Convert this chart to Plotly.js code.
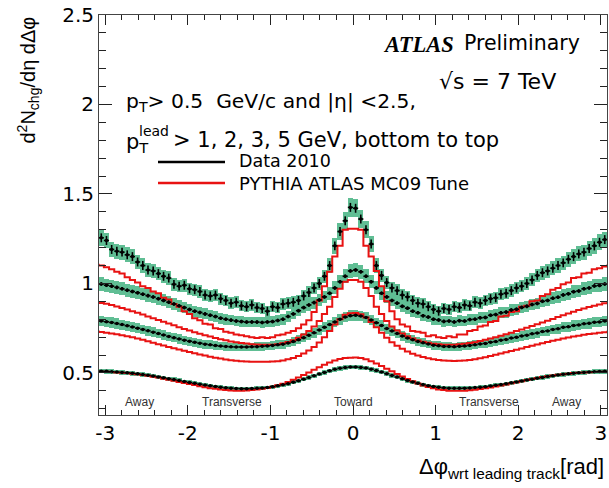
<!DOCTYPE html>
<html>
<head>
<meta charset="utf-8">
<script src="https://cdn.plot.ly/plotly-3.0.1.min.js"></script>
<style>html,body{margin:0;padding:0;background:#fff;}#chart{width:609px;height:488px;}</style>
</head>
<body>
<div id="chart"></div>
<script>
// ---------------- data ----------------
const nBins = 100; // bins over [-pi, pi]
const xTickVals = [-3, -2, -1, 0, 1, 2, 3];
const xTickText = ['-3', '-2', '-1', '0', '1', '2', '3'];
const yTickVals = [0.5, 1, 1.5, 2, 2.5];
const yTickText = ['0.5', '1', '1.5', '2', '2.5'];

// Data 2010, pT lead > 5 GeV (top)
const dataPt5 = [
 1.25, 1.255, 1.24, 1.19, 1.18, 1.175, 1.16, 1.15, 1.12, 1.10,
 1.075, 1.07, 1.055, 1.04, 1.03, 0.995, 0.985, 0.99, 0.97, 0.965,
 0.955, 0.935, 0.93, 0.935, 0.915, 0.905, 0.89, 0.895, 0.875, 0.87,
 0.88, 0.865, 0.86, 0.845, 0.87, 0.865, 0.885, 0.89, 0.895, 0.905,
 0.93, 0.95, 0.975, 1.00, 1.04, 1.10, 1.21, 1.29, 1.35, 1.425,
 1.42, 1.36, 1.30, 1.22, 1.10, 1.045, 1.005, 0.975, 0.96, 0.935,
 0.925, 0.905, 0.89, 0.885, 0.87, 0.855, 0.845, 0.86, 0.855, 0.87,
 0.865, 0.88, 0.875, 0.895, 0.89, 0.905, 0.915, 0.92, 0.94, 0.945,
 0.96, 0.975, 0.985, 1.00, 1.02, 1.045, 1.06, 1.07, 1.085, 1.10,
 1.115, 1.135, 1.15, 1.165, 1.175, 1.195, 1.21, 1.23, 1.245, 1.255];
// Data 2010, pT lead > 3 GeV
const dataPt3 = [
 1.0, 0.997, 0.99, 0.985, 0.978, 0.97, 0.962, 0.955, 0.948, 0.94,
 0.932, 0.924, 0.915, 0.905, 0.895, 0.885, 0.875, 0.865, 0.855, 0.845,
 0.838, 0.83, 0.822, 0.815, 0.806, 0.80, 0.795, 0.79, 0.787, 0.784,
 0.785, 0.784, 0.782, 0.785, 0.787, 0.793, 0.80, 0.815, 0.83, 0.848,
 0.865, 0.88, 0.893, 0.908, 0.925, 0.945, 0.975, 1.01, 1.04, 1.07,
 1.075, 1.065, 1.04, 1.01, 0.975, 0.945, 0.925, 0.905, 0.89, 0.872,
 0.862, 0.845, 0.836, 0.82, 0.812, 0.80, 0.796, 0.788, 0.79, 0.785,
 0.792, 0.79, 0.798, 0.80, 0.808, 0.81, 0.822, 0.826, 0.836, 0.84,
 0.852, 0.856, 0.866, 0.872, 0.882, 0.888, 0.9, 0.905, 0.917, 0.923,
 0.936, 0.942, 0.954, 0.958, 0.97, 0.975, 0.986, 0.989, 0.997, 1.0];
// Data 2010, pT lead > 2 GeV
const dataPt2 = [
 0.793, 0.79, 0.786, 0.782, 0.776, 0.77, 0.764, 0.757, 0.75, 0.743,
 0.736, 0.728, 0.72, 0.712, 0.704, 0.697, 0.69, 0.683, 0.677, 0.671,
 0.666, 0.661, 0.657, 0.653, 0.65, 0.648, 0.646, 0.645, 0.645, 0.645,
 0.646, 0.647, 0.649, 0.651, 0.654, 0.657, 0.661, 0.667, 0.675, 0.685,
 0.697, 0.71, 0.724, 0.74, 0.755, 0.77, 0.785, 0.8, 0.812, 0.82,
 0.822, 0.818, 0.81, 0.796, 0.78, 0.765, 0.748, 0.735, 0.72, 0.706,
 0.695, 0.686, 0.676, 0.668, 0.662, 0.655, 0.652, 0.648, 0.648, 0.646,
 0.649, 0.65, 0.654, 0.657, 0.662, 0.665, 0.672, 0.675, 0.683, 0.687,
 0.695, 0.699, 0.707, 0.711, 0.719, 0.723, 0.731, 0.735, 0.743, 0.747,
 0.755, 0.758, 0.765, 0.768, 0.775, 0.777, 0.783, 0.785, 0.79, 0.791];
// Data 2010, pT lead > 1 GeV (bottom)
const dataPt1 = [
 0.511, 0.51, 0.509, 0.507, 0.505, 0.503, 0.501, 0.498, 0.495, 0.491,
 0.487, 0.483, 0.478, 0.473, 0.468, 0.463, 0.458, 0.452, 0.447, 0.442,
 0.437, 0.432, 0.428, 0.424, 0.42, 0.417, 0.415, 0.413, 0.412, 0.412,
 0.413, 0.414, 0.416, 0.419, 0.423, 0.428, 0.434, 0.44, 0.448, 0.456,
 0.465, 0.474, 0.484, 0.494, 0.503, 0.512, 0.52, 0.526, 0.53, 0.533,
 0.533, 0.531, 0.527, 0.521, 0.513, 0.505, 0.496, 0.486, 0.477, 0.467,
 0.458, 0.45, 0.442, 0.435, 0.429, 0.424, 0.42, 0.417, 0.415, 0.414,
 0.414, 0.415, 0.416, 0.418, 0.42, 0.423, 0.427, 0.431, 0.435, 0.44,
 0.445, 0.45, 0.455, 0.46, 0.465, 0.47, 0.475, 0.48, 0.484, 0.488,
 0.492, 0.495, 0.498, 0.501, 0.503, 0.505, 0.507, 0.508, 0.509, 0.51];

// PYTHIA ATLAS MC09, pT lead > 5 GeV
const mcPt5 = [
 1.105, 1.10, 1.09, 1.08, 1.065, 1.055, 1.035, 1.02, 1.005, 0.985,
 0.975, 0.955, 0.945, 0.92, 0.91, 0.885, 0.87, 0.845, 0.83, 0.805,
 0.795, 0.775, 0.77, 0.75, 0.745, 0.73, 0.725, 0.715, 0.71, 0.705,
 0.70, 0.695, 0.70, 0.695, 0.70, 0.71, 0.715, 0.725, 0.735, 0.75,
 0.77, 0.795, 0.84, 0.905, 0.985, 1.065, 1.15, 1.21, 1.30, 1.305,
 1.305, 1.30, 1.21, 1.15, 1.07, 0.985, 0.90, 0.845, 0.80, 0.77,
 0.76, 0.735, 0.73, 0.725, 0.705, 0.71, 0.70, 0.695, 0.705, 0.70,
 0.715, 0.715, 0.735, 0.74, 0.76, 0.765, 0.785, 0.79, 0.815, 0.82,
 0.84, 0.845, 0.87, 0.875, 0.9, 0.905, 0.93, 0.94, 0.965, 0.975,
 0.995, 1.005, 1.03, 1.035, 1.055, 1.06, 1.08, 1.085, 1.095, 1.10];
// PYTHIA ATLAS MC09, pT lead > 3 GeV
const mcPt3 = [
 0.895, 0.891, 0.886, 0.879, 0.871, 0.863, 0.854, 0.845, 0.836, 0.826,
 0.816, 0.806, 0.796, 0.786, 0.776, 0.766, 0.756, 0.746, 0.737, 0.728,
 0.719, 0.711, 0.703, 0.695, 0.688, 0.682, 0.676, 0.671, 0.667, 0.664,
 0.661, 0.659, 0.658, 0.657, 0.658, 0.661, 0.666, 0.673, 0.683, 0.697,
 0.715, 0.735, 0.76, 0.79, 0.83, 0.87, 0.925, 0.97, 1.01, 1.02,
 1.02, 1.01, 0.975, 0.93, 0.87, 0.83, 0.79, 0.76, 0.737, 0.72,
 0.705, 0.692, 0.682, 0.674, 0.668, 0.663, 0.66, 0.658, 0.657, 0.658,
 0.66, 0.663, 0.667, 0.672, 0.678, 0.685, 0.692, 0.70, 0.708, 0.716,
 0.725, 0.734, 0.743, 0.752, 0.762, 0.772, 0.782, 0.792, 0.802, 0.812,
 0.822, 0.832, 0.842, 0.851, 0.86, 0.868, 0.876, 0.883, 0.889, 0.893];
// PYTHIA ATLAS MC09, pT lead > 2 GeV
const mcPt2 = [
 0.732, 0.729, 0.725, 0.721, 0.716, 0.711, 0.705, 0.699, 0.692, 0.685,
 0.677, 0.669, 0.661, 0.653, 0.645, 0.638, 0.631, 0.624, 0.617, 0.61,
 0.603, 0.597, 0.591, 0.585, 0.58, 0.575, 0.571, 0.568, 0.565, 0.564,
 0.563, 0.562, 0.562, 0.563, 0.564, 0.566, 0.57, 0.576, 0.584, 0.595,
 0.608, 0.625, 0.645, 0.67, 0.7, 0.735, 0.77, 0.8, 0.825, 0.834,
 0.835, 0.828, 0.81, 0.785, 0.755, 0.725, 0.697, 0.672, 0.652, 0.635,
 0.62, 0.607, 0.597, 0.589, 0.582, 0.577, 0.573, 0.57, 0.568, 0.567,
 0.568, 0.57, 0.573, 0.577, 0.582, 0.588, 0.595, 0.602, 0.609, 0.616,
 0.623, 0.63, 0.637, 0.645, 0.652, 0.659, 0.666, 0.673, 0.68, 0.686,
 0.692, 0.698, 0.703, 0.708, 0.713, 0.717, 0.721, 0.725, 0.728, 0.73];
// PYTHIA ATLAS MC09, pT lead > 1 GeV
const mcPt1 = [
 0.508, 0.507, 0.506, 0.505, 0.503, 0.501, 0.499, 0.496, 0.492, 0.488,
 0.484, 0.479, 0.474, 0.468, 0.462, 0.456, 0.45, 0.444, 0.438, 0.432,
 0.426, 0.42, 0.415, 0.411, 0.407, 0.404, 0.402, 0.401, 0.401, 0.402,
 0.404, 0.407, 0.411, 0.416, 0.423, 0.431, 0.44, 0.45, 0.462, 0.475,
 0.489, 0.503, 0.518, 0.532, 0.546, 0.559, 0.57, 0.578, 0.583, 0.585,
 0.586, 0.583, 0.576, 0.566, 0.553, 0.539, 0.524, 0.509, 0.494, 0.48,
 0.466, 0.453, 0.441, 0.43, 0.421, 0.414, 0.408, 0.404, 0.401, 0.40,
 0.40, 0.401, 0.403, 0.406, 0.41, 0.414, 0.419, 0.424, 0.43, 0.436,
 0.442, 0.448, 0.454, 0.46, 0.466, 0.472, 0.477, 0.482, 0.486, 0.49,
 0.493, 0.496, 0.499, 0.501, 0.503, 0.504, 0.505, 0.506, 0.507, 0.507];

// statistical error (absolute) and systematic band (relative) per data series
const dataSeries = [dataPt1, dataPt2, dataPt3, dataPt5];
const statErr = [0.003, 0.006, 0.01, 0.025];
const systFrac = [0.025, 0.037, 0.037, 0.036];
const mcSeries = [mcPt1, mcPt2, mcPt3, mcPt5];

const regionText = ['Away', 'Transverse', 'Toward', 'Transverse', 'Away'];

// ---------------- chart ----------------
const binW = 2 * Math.PI / nBins;
const phi = Array.from({length: nBins}, (_, i) => -Math.PI + (i + 0.5) * binW);

const GREEN = 'rgb(96,190,148)';
const RED = 'rgb(232,18,18)';
const FONT = 'Liberation Sans, Arial, Helvetica, sans-serif';
const WIDE = 'DejaVu Sans, Liberation Sans, sans-serif';

const traces = [];
dataSeries.forEach((vals, s) => {
  traces.push({
    type: 'bar', x: phi,
    y: vals.map(v => 2 * v * systFrac[s]),
    base: vals.map(v => v * (1 - systFrac[s])),
    width: binW, marker: {color: GREEN, line: {width: 0}},
    hoverinfo: 'skip', showlegend: false
  });
});
mcSeries.forEach(vals => {
  traces.push({
    type: 'scatter', mode: 'lines', x: phi, y: vals,
    line: {shape: 'hvh', color: RED, width: 2}, showlegend: false
  });
});
dataSeries.forEach((vals, s) => {
  traces.push({
    type: 'scatter', mode: 'markers', x: phi, y: vals,
    marker: {color: 'black', size: 3.5},
    error_y: {type: 'constant', value: statErr[s], color: 'black', thickness: 1.6, width: 0},
    error_x: {type: 'constant', value: binW / 2, color: 'black', thickness: 1.6, width: 0},
    showlegend: false
  });
});

// pixel -> paper helpers (plot area 99..607 x 15..415)
const L = 99, R = 607, T = 15, B = 415;
const px = x => (x - L) / (R - L);
const py = y => (B - y) / (B - T);

const regionX = [-2.59, -1.47, 0, 1.65, 2.59];
const annotations = [
  {text: '<b><i>ATLAS</i></b>', x: px(456), y: py(44), xanchor: 'right', yanchor: 'middle',
   font: {family: 'Liberation Serif, Times New Roman, serif', size: 22.5, color: '#000'}},
  {text: 'Preliminary', x: px(462), y: py(43), xanchor: 'left', yanchor: 'middle',
   font: {family: WIDE, size: 20.5, color: '#000'}},
  {text: '√s = 7 TeV', x: px(437), y: py(81), xanchor: 'left', yanchor: 'middle',
   font: {family: WIDE, size: 22, color: '#000'}},
  {text: 'p<sub>T</sub>> 0.5  GeV/c and |η| <2.5,', x: px(124), y: py(102), xanchor: 'left', yanchor: 'middle',
   font: {family: WIDE, size: 20.3, color: '#000'}},
  {text: 'p<sub>T</sub>', x: px(124), y: py(143), xanchor: 'left', yanchor: 'middle',
   font: {family: WIDE, size: 21, color: '#000'}},
  {text: 'lead', x: px(137), y: py(131), xanchor: 'left', yanchor: 'middle',
   font: {family: WIDE, size: 14, color: '#000'}},
  {text: '> 1, 2, 3, 5 GeV, bottom to top', x: px(171), y: py(140), xanchor: 'left', yanchor: 'middle',
   font: {family: WIDE, size: 21, color: '#000'}},
  {text: 'Data 2010', x: px(237), y: py(161), xanchor: 'left', yanchor: 'middle',
   font: {family: WIDE, size: 17.5, color: '#000'}},
  {text: 'PYTHIA ATLAS MC09 Tune', x: px(237), y: py(183), xanchor: 'left', yanchor: 'middle',
   font: {family: WIDE, size: 18, color: '#000'}},
  {text: 'd<sup>2</sup>N<sub>chg</sub>/dη dΔφ', textangle: -90, x: px(28), y: py(15),
   xanchor: 'center', yanchor: 'top', font: {family: FONT, size: 20, color: '#000'}},
  {text: 'Δφ<sub>wrt leading track</sub>[rad]', x: px(606), y: py(468), xanchor: 'right', yanchor: 'middle',
   font: {family: FONT, size: 22, color: '#000'}}
];
regionText.forEach((t, i) => annotations.push({
  text: t, xref: 'x', x: regionX[i], yref: 'paper', y: py(402), xanchor: 'center', yanchor: 'middle',
  font: {family: FONT, size: 12, color: '#333'}
}));
annotations.forEach(a => { if (!a.xref) a.xref = 'paper'; if (!a.yref) a.yref = 'paper'; a.showarrow = false; });

const shapes = [
  {type: 'line', xref: 'paper', yref: 'paper', x0: px(158), x1: px(225), y0: py(162), y1: py(162),
   line: {color: 'black', width: 2.5}},
  {type: 'line', xref: 'paper', yref: 'paper', x0: px(158), x1: px(225), y0: py(183), y1: py(183),
   line: {color: RED, width: 2.5}}
];

const axisCommon = {
  ticks: 'inside', tickcolor: '#222', tickwidth: 1, showline: true, linecolor: '#444', linewidth: 1,
  mirror: 'allticks', showgrid: false, zeroline: false,
  tickfont: {family: WIDE, size: 20, color: '#000'}, tickmode: 'array'
};

const layout = {
  width: 609, height: 488,
  margin: {l: L, r: 609 - R, t: T, b: 488 - B, pad: 0},
  paper_bgcolor: '#fff', plot_bgcolor: '#fff',
  showlegend: false, barmode: 'overlay', bargap: 0,
  xaxis: Object.assign({}, axisCommon, {
    range: [-3.075, 3.075], tickvals: xTickVals, ticktext: xTickText, ticklen: 10,
    minor: {dtick: 0.2, tick0: 0, ticklen: 5, ticks: 'inside', tickcolor: '#222', showgrid: false}
  }),
  yaxis: Object.assign({}, axisCommon, {
    range: [0.265, 2.5], tickvals: yTickVals, ticktext: yTickText, ticklen: 13,
    minor: {dtick: 0.1, tick0: 0, ticklen: 7, ticks: 'inside', tickcolor: '#222', showgrid: false}
  }),
  annotations: annotations,
  shapes: shapes
};

Plotly.newPlot('chart', traces, layout, {displayModeBar: false, staticPlot: true});
</script>
</body>
</html>
